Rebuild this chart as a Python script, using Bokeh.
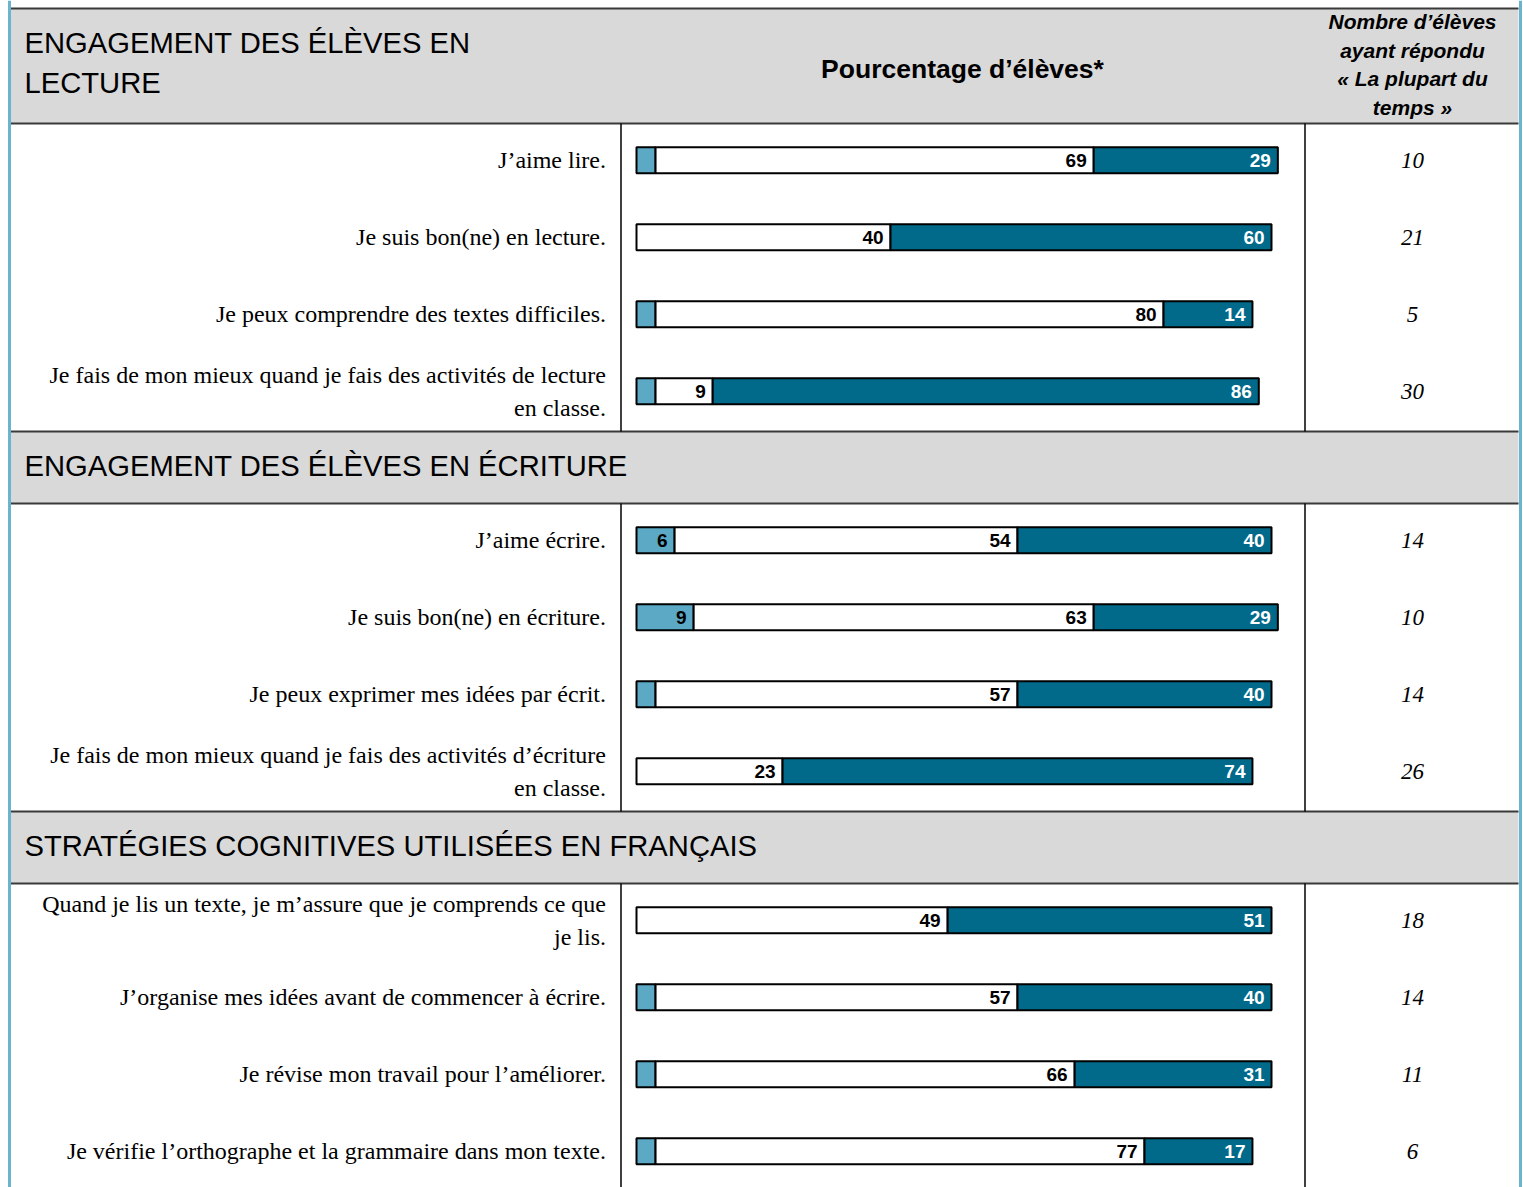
from bokeh.plotting import figure
from bokeh.models import Range1d
from bokeh.core.properties import value
from bokeh.embed import file_html
from bokeh.resources import INLINE

# ---------------- data ----------------
section_titles = [
    "ENGAGEMENT DES ÉLÈVES EN\nLECTURE",
    "ENGAGEMENT DES ÉLÈVES EN ÉCRITURE",
    "STRATÉGIES COGNITIVES UTILISÉES EN FRANÇAIS",
]
items = [
    "J’aime lire.",
    "Je suis bon(ne) en lecture.",
    "Je peux comprendre des textes difficiles.",
    "Je fais de mon mieux quand je fais des activités de lecture\nen classe.",
    "J’aime écrire.",
    "Je suis bon(ne) en écriture.",
    "Je peux exprimer mes idées par écrit.",
    "Je fais de mon mieux quand je fais des activités d’écriture\nen classe.",
    "Quand je lis un texte, je m’assure que je comprends ce que\nje lis.",
    "J’organise mes idées avant de commencer à écrire.",
    "Je révise mon travail pour l’améliorer.",
    "Je vérifie l’orthographe et la grammaire dans mon texte.",
]
items_per_section = [4, 4, 4]
pct_rarely = [3, 0, 3, 3, 6, 9, 3, 0, 0, 3, 3, 3]
pct_sometimes = [69, 40, 80, 9, 54, 63, 57, 23, 49, 57, 66, 77]
pct_most = [29, 60, 14, 86, 40, 29, 40, 74, 51, 40, 31, 17]
n_most = [10, 21, 5, 30, 14, 10, 14, 26, 18, 14, 11, 6]
header_mid = "Pourcentage d’élèves*"
header_right = "Nombre d’élèves\nayant répondu\n« La plupart du\ntemps »"

# ---------------- layout ----------------
W, H = 1523, 1187
BAR0 = 636          # screen x of 0 %
S = 6.35            # pixels per percent
def X(px):
    return (px - BAR0) / S

TOP = 8
header_h = [115, 72, 72]
row_h = 77

DARK = "#016a8a"
LIGHT = "#5ba9c4"
GRAY = "#d9d9d9"
BORDER = "#6ab5cd"

p = figure(width=W, height=H, output_backend="svg", toolbar_location=None,
           x_range=Range1d(X(0), X(W)),
           y_range=Range1d(H, 0),
           min_border=0, outline_line_color=None)
p.axis.visible = False
p.grid.visible = False
p.background_fill_color = "white"
p.border_fill_color = "white"

# section geometry
cursor = TOP
hdr_tops, hdr_bots, body_ranges, row_centers = [], [], [], []
for s, n in enumerate(items_per_section):
    hdr_tops.append(cursor)
    hdr_bots.append(cursor + header_h[s])
    cursor += header_h[s]
    start = cursor
    for i in range(n):
        row_centers.append(cursor + i * row_h + 36.8)
    cursor += n * row_h
    body_ranges.append((start, cursor))

LEFT_EDGE, RIGHT_EDGE = 10, 1518

# header backgrounds
p.quad(left=X(LEFT_EDGE), right=X(RIGHT_EDGE), top=hdr_tops, bottom=hdr_bots,
       fill_color=GRAY, line_color=None)

# horizontal rules
ys = hdr_tops + hdr_bots
p.segment(x0=X(LEFT_EDGE), x1=X(RIGHT_EDGE), y0=ys, y1=ys,
          line_color="#3a3a3a", line_width=2)

# vertical column rules in bodies
for (a, b) in body_ranges:
    for vx in (620.5, 1304.5):
        p.segment(x0=X(vx), x1=X(vx), y0=a, y1=min(b, H),
                  line_color="black", line_width=1.5)

# side borders
for bx in (9, 1520):
    p.segment(x0=X(bx), x1=X(bx), y0=0, y1=H,
              line_color=BORDER, line_width=3)

# bars
r_right = pct_rarely
s_left = pct_rarely
s_right = [a + b for a, b in zip(pct_rarely, pct_sometimes)]
m_left = s_right
m_right = [a + b for a, b in zip(s_right, pct_most)]

BH = 26
idx_r = [i for i, v in enumerate(pct_rarely) if v > 0]
p.hbar(y=[row_centers[i] for i in idx_r], left=0, right=[r_right[i] for i in idx_r],
       height=BH, fill_color=LIGHT, line_color="black", line_width=2)
p.hbar(y=row_centers, left=s_left, right=s_right, height=BH,
       fill_color="white", line_color="black", line_width=2)
p.hbar(y=row_centers, left=m_left, right=m_right, height=BH,
       fill_color=DARK, line_color="black", line_width=2)

# bar value labels
OFF = 1.1
lx, ly, lt, lc = [], [], [], []
for i in range(len(items)):
    for v, end, col in ((pct_rarely[i], r_right[i], "black"),
                        (pct_sometimes[i], s_right[i], "black"),
                        (pct_most[i], m_right[i], "white")):
        if v >= 5:
            lx.append(end - OFF); ly.append(row_centers[i]); lt.append(str(v)); lc.append(col)
p.text(x=lx, y=ly, text=lt, text_color=lc, text_align="right", text_baseline="middle",
       text_font=value("Liberation Sans"), text_font_style="bold", text_font_size="19px")

# item labels
p.text(x=X(605.5), y=row_centers, text=items, text_align="right", text_baseline="middle",
       text_font=value("Liberation Serif"), text_font_size="24px", text_line_height=1.25,
       text_color="black")

# counts
p.text(x=X(1412), y=row_centers, text=[str(v) for v in n_most], text_align="center",
       text_baseline="middle", text_font=value("Liberation Serif"), text_font_style="italic",
       text_font_size="23px", text_color="black")

# section titles
p.text(x=X(24), y=[(a + b) / 2 - (3 if i == 0 else 1.5) for i, (a, b) in enumerate(zip(hdr_tops, hdr_bots))],
       text=section_titles, text_align="left", text_baseline="middle",
       text_font=value("Liberation Sans"), text_font_size="29.2px", text_line_height=1.25,
       text_color="black")

# column headers
p.text(x=X(962), y=68, text=[header_mid], text_align="center", text_baseline="middle",
       text_font=value("Liberation Sans"), text_font_style="bold", text_font_size="26.5px",
       text_color="black")
p.text(x=X(1412), y=64, text=[header_right], text_align="center", text_baseline="middle",
       text_font=value("Liberation Sans"), text_font_style="bold italic", text_font_size="21px",
       text_line_height=1.24, text_color="black")

open("out.html", "w").write(file_html(p, INLINE))
